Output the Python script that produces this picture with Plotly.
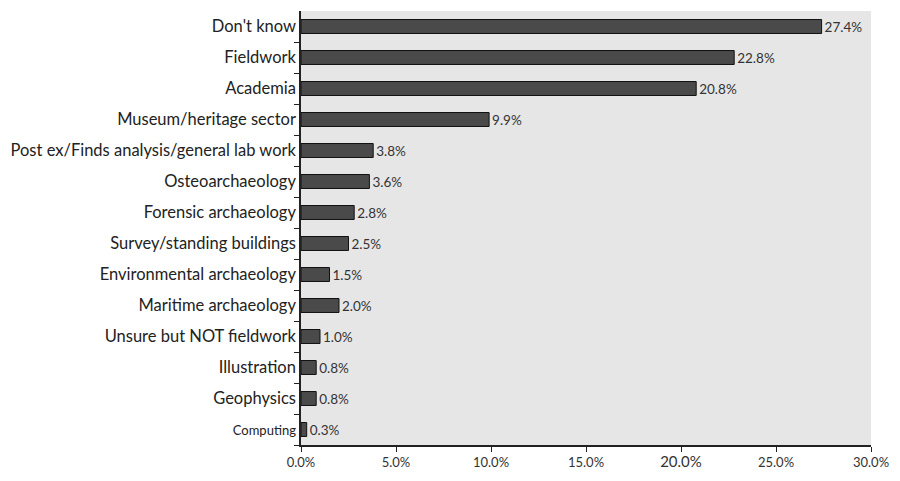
import plotly.graph_objects as go

categories = ["Don't know", "Fieldwork", "Academia", "Museum/heritage sector",
              "Post ex/Finds analysis/general lab work", "Osteoarchaeology",
              "Forensic archaeology", "Survey/standing buildings",
              "Environmental archaeology", "Maritime archaeology",
              "Unsure but NOT fieldwork", "Illustration", "Geophysics", "Computing"]
values = [27.4, 22.8, 20.8, 9.9, 3.8, 3.6, 2.8, 2.5, 1.5, 2.0, 1.0, 0.8, 0.8, 0.3]
labels = ["27.4%", "22.8%", "20.8%", "9.9%", "3.8%", "3.6%", "2.8%", "2.5%",
          "1.5%", "2.0%", "1.0%", "0.8%", "0.8%", "0.3%"]
x_ticks = [0, 5, 10, 15, 20, 25, 30]
x_ticktext = ["0.0%", "5.0%", "10.0%", "15.0%", "<span style='font-size:15px'>20.0%</span>", "25.0%", "30.0%"]

FONT = "Lato"
ticktext = [c if c != "Computing" else "<span style='font-size:13px'>Computing</span>" for c in categories]

fig = go.Figure(go.Bar(
    x=values, y=categories, orientation="h",
    marker=dict(color="#4a4a4a", line=dict(color="#111111", width=1)),
    width=0.45,
    text=labels, textposition="outside", cliponaxis=False, constraintext="none",
    textfont=dict(size=13.5, color="#333333", family=FONT),
))

fig.update_layout(
    width=900, height=481,
    margin=dict(l=297, r=20, t=11, b=28),
    paper_bgcolor="white", plot_bgcolor="#e6e6e6",
    font=dict(family=FONT, color="#222222"),
    showlegend=False,
)
fig.update_yaxes(
    categoryorder="array", categoryarray=categories[::-1],
    tickvals=categories, ticktext=ticktext,
    tickson="boundaries", ticks="outside", ticklen=5, tickcolor="#222",
    showline=True, linecolor="#222", linewidth=1.5,
    showgrid=False, tickfont=dict(size=16.5, color="#222"),
)
fig.update_xaxes(
    range=[0, 30], tickvals=x_ticks, ticktext=x_ticktext,
    ticks="outside", ticklen=5, tickcolor="#222",
    showline=True, linecolor="#222", linewidth=1.5,
    showgrid=False, zeroline=False, tickfont=dict(size=13, color="#333"),
)

fig.write_html("out.html")
